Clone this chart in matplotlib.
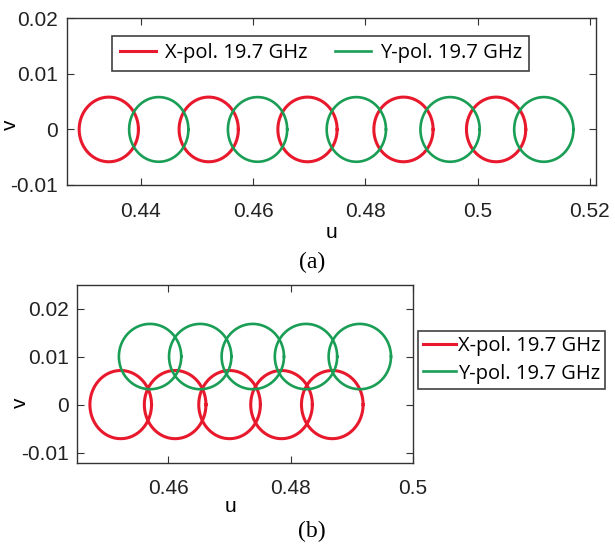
import numpy as np
import matplotlib
matplotlib.use("Agg")
import matplotlib.pyplot as plt

# panel (a): circle centres (u, v) and radii
a_red_u = [0.4343, 0.4521, 0.4697, 0.4868, 0.5033]
a_green_u = [0.4432, 0.4608, 0.4784, 0.4951, 0.5118]
a_red_v = [0.0, 0.0, 0.0, 0.0, 0.0]
a_green_v = [0.0, 0.0, 0.0, 0.0, 0.0]
a_ru, a_rv = 0.00528, 0.00582

# panel (b)
b_red_u = [0.4522, 0.4611, 0.4700, 0.4785, 0.4868]
b_green_u = [0.4570, 0.4652, 0.4738, 0.4825, 0.4913]
b_red_v = [0.0, 0.0, 0.0, 0.0, 0.0]
b_green_v = [0.0100, 0.0100, 0.0100, 0.0100, 0.0100]
b_red_r = (0.00504, 0.0071)
b_green_r = (0.0051, 0.0068)

labels = ["X-pol. 19.7 GHz", "Y-pol. 19.7 GHz"]
RED = "#e8192c"
GREEN = "#1a9e55"

plt.rcParams["font.family"] = ["Liberation Sans", "DejaVu Sans"]
t = np.linspace(0, 2 * np.pi, 200)


def draw_circles(ax, us, vs, ru, rv, color, lw, label):
    for i, (u, v) in enumerate(zip(us, vs)):
        ax.plot(u + ru * np.cos(t), v + rv * np.sin(t), color=color, lw=lw,
                label=label if i == 0 else None)


def style(ax):
    ax.tick_params(direction="in", top=True, right=True, length=5,
                   labelsize=15, width=0.8, colors="#333333", labelcolor="#222222")
    ax.tick_params(axis="x", pad=12)
    ax.tick_params(axis="y", pad=6)
    for s in ax.spines.values():
        s.set_color("#333333")
        s.set_linewidth(1.0)


fig = plt.figure(figsize=(6.15, 5.44), dpi=100)
W, H = 615, 544
leg_font = {"family": "Open Sans", "size": 14.5}

# (a)
ax1 = fig.add_axes([66.7 / W, 1 - 185 / H, (596 - 66.7) / W, (185 - 18.3) / H])
draw_circles(ax1, a_red_u, a_red_v, a_ru, a_rv, RED, 2.2, labels[0])
draw_circles(ax1, a_green_u, a_green_v, a_ru, a_rv, GREEN, 1.9, labels[1])
ax1.set_xlim(0.4268, 0.5211)
ax1.set_ylim(-0.01, 0.02)
ax1.set_xticks([0.44, 0.46, 0.48, 0.5, 0.52])
ax1.set_xticklabels(["0.44", "0.46", "0.48", "0.5", "0.52"])
ax1.set_yticks([-0.01, 0, 0.01, 0.02])
ax1.set_yticklabels(["-0.01", "0", "0.01", "0.02"])
style(ax1)
ax1.set_xlabel("u", fontsize=15)
ax1.set_ylabel("v", fontsize=15)
ax1.xaxis.set_label_coords(0.5, -0.225)
ax1.yaxis.set_label_coords(-0.088, 0.36)
leg1 = ax1.legend(loc="center", bbox_to_anchor=(0.48, 0.789), ncol=2,
                  frameon=True, fancybox=False, edgecolor="#111111",
                  prop=leg_font, handlelength=1.8, handletextpad=0.45,
                  columnspacing=1.35, borderpad=0.35)
leg1.get_frame().set_linewidth(1.2)

# (b)
ax2 = fig.add_axes([77.3 / W, 1 - 462.7 / H, (413 - 77.3) / W, (462.7 - 285) / H])
draw_circles(ax2, b_red_u, b_red_v, *b_red_r, RED, 2.2, labels[0])
draw_circles(ax2, b_green_u, b_green_v, *b_green_r, GREEN, 1.9, labels[1])
ax2.set_xlim(0.4451, 0.5)
ax2.set_ylim(-0.0121, 0.0249)
ax2.set_xticks([0.46, 0.48, 0.5])
ax2.set_xticklabels(["0.46", "0.48", "0.5"])
ax2.set_yticks([-0.01, 0, 0.01, 0.02])
ax2.set_yticklabels(["-0.01", "0", "0.01", "0.02"])
style(ax2)
ax2.set_xlabel("u", fontsize=15)
ax2.set_ylabel("v", fontsize=15)
ax2.xaxis.set_label_coords(0.455, -0.195)
ax2.yaxis.set_label_coords(-0.141, 0.336)
leg2 = ax2.legend(loc="center left", bbox_to_anchor=(1.0158, 0.578),
                  frameon=True, fancybox=False, edgecolor="#111111",
                  prop=leg_font, handlelength=1.6, handletextpad=0.1,
                  borderpad=0.25, labelspacing=0.35, borderaxespad=0)
leg2.get_frame().set_linewidth(1.2)

fig.text(312 / W, 1 - 262 / H, "(a)", ha="center", va="center",
         family="Liberation Serif", fontsize=17)
fig.text(312 / W, 1 - 531 / H, "(b)", ha="center", va="center",
         family="Liberation Serif", fontsize=17)

fig.savefig("out.png", dpi=100)
